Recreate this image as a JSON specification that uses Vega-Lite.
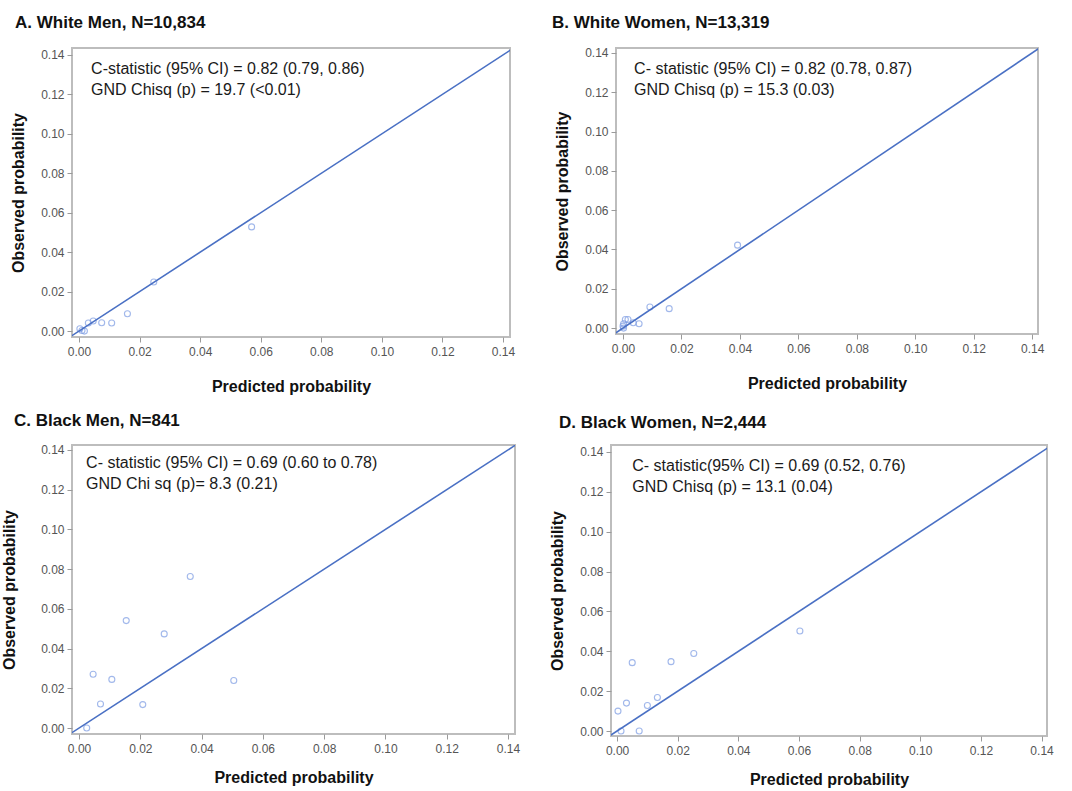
{
  "$schema": "https://vega.github.io/schema/vega-lite/v6.json",
  "background": "white",
  "padding": {"left": 0, "top": 12, "right": 5, "bottom": 3},
  "config": {
    "view": {"stroke": "#bdbdbd", "strokeWidth": 2},
    "axis": {
      "domain": false, "grid": false, "tickColor": "#9a9a9a", "tickSize": 5, "tickWidth": 1,
      "labelFont": "Liberation Sans", "labelFontSize": 12, "labelColor": "#555555", "labelPadding": 3,
      "titleFont": "Liberation Sans", "titleFontSize": 16, "titleFontWeight": "bold", "titleColor": "#111111",
      "format": ".2f"
    },
    "axisX": {"labelPadding": 4, "titlePadding": 21, "labelFlush": false},
    "axisY": {"titlePadding": 14, "labelFlush": false},
    "title": {"anchor": "start", "frame": "group", "font": "Liberation Sans", "fontSize": 17, "fontWeight": "bold", "color": "#111111"},
    "point": {"shape": "circle", "filled": false, "size": 36, "strokeWidth": 1.1, "color": "#7b9be3"},
    "rule": {"color": "#4a70c4", "strokeWidth": 1.6},
    "text": {"font": "Liberation Sans", "fontSize": 16, "color": "#1a1a1a", "align": "left", "baseline": "top", "lineHeight": 21, "lineBreak": "\n"}
  },
  "datasets": {
    "white_men": [
      {"predicted": 0.0003, "observed": 0.0012},
      {"predicted": 0.0010, "observed": 0.0003},
      {"predicted": 0.0018, "observed": 0.0000},
      {"predicted": 0.0031, "observed": 0.0041},
      {"predicted": 0.0047, "observed": 0.0051},
      {"predicted": 0.0075, "observed": 0.0042},
      {"predicted": 0.0108, "observed": 0.0041},
      {"predicted": 0.0160, "observed": 0.0088},
      {"predicted": 0.0247, "observed": 0.0249},
      {"predicted": 0.0570, "observed": 0.0528}
    ],
    "white_women": [
      {"predicted": 0.0002, "observed": 0.0000},
      {"predicted": 0.0000, "observed": 0.0010},
      {"predicted": 0.0002, "observed": 0.0022},
      {"predicted": 0.0008, "observed": 0.0044},
      {"predicted": 0.0017, "observed": 0.0044},
      {"predicted": 0.0035, "observed": 0.0027},
      {"predicted": 0.0055, "observed": 0.0022},
      {"predicted": 0.0092, "observed": 0.0107},
      {"predicted": 0.0158, "observed": 0.0099},
      {"predicted": 0.0392, "observed": 0.0422}
    ],
    "black_men": [
      {"predicted": 0.0025, "observed": 0.0000},
      {"predicted": 0.0046, "observed": 0.0271},
      {"predicted": 0.0070, "observed": 0.0121},
      {"predicted": 0.0107, "observed": 0.0245},
      {"predicted": 0.0154, "observed": 0.0541},
      {"predicted": 0.0208, "observed": 0.0118},
      {"predicted": 0.0278, "observed": 0.0474},
      {"predicted": 0.0363, "observed": 0.0763},
      {"predicted": 0.0505, "observed": 0.0239}
    ],
    "black_women": [
      {"predicted": 0.0003, "observed": 0.0100},
      {"predicted": 0.0013, "observed": 0.0000},
      {"predicted": 0.0031, "observed": 0.0140},
      {"predicted": 0.0050, "observed": 0.0343},
      {"predicted": 0.0073, "observed": 0.0000},
      {"predicted": 0.0100, "observed": 0.0128},
      {"predicted": 0.0133, "observed": 0.0168},
      {"predicted": 0.0178, "observed": 0.0348},
      {"predicted": 0.0253, "observed": 0.0389},
      {"predicted": 0.0603, "observed": 0.0502}
    ]
  },
  "spacing": 15,
  "vconcat": [
    {
      "spacing": 35,
      "hconcat": [
        {
          "title": {"text": "A. White Men, N=10,834", "dx": -57, "offset": 16},
          "width": 438, "height": 289,
          "layer": [
            {
              "data": {"name": "white_men"},
              "mark": "point",
              "encoding": {
                "x": {"field": "predicted", "type": "quantitative", "scale": {"domain": [-0.0023, 0.1423], "nice": false, "zero": false}, "axis": {"title": "Predicted probability", "values": [0, 0.02, 0.04, 0.06, 0.08, 0.1, 0.12, 0.14]}},
                "y": {"field": "observed", "type": "quantitative", "scale": {"domain": [-0.003, 0.1435], "nice": false, "zero": false}, "axis": {"title": "Observed probability", "values": [0, 0.02, 0.04, 0.06, 0.08, 0.1, 0.12, 0.14]}}
              }
            },
            {
              "data": {"values": [{"line": "y=x"}]},
              "mark": {"type": "rule", "clip": true},
              "encoding": {
                "x": {"datum": -0.01, "type": "quantitative"}, "y": {"datum": -0.01, "type": "quantitative"},
                "x2": {"datum": 0.16}, "y2": {"datum": 0.16}
              }
            },
            {
              "data": {"values": [{"note": "C-statistic (95% CI) = 0.82 (0.79, 0.86)\nGND  Chisq (p) = 19.7 (<0.01)"}]},
              "mark": "text",
              "encoding": {
                "x": {"datum": 0.004, "type": "quantitative"}, "y": {"datum": 0.137, "type": "quantitative"},
                "text": {"field": "note", "type": "nominal"}
              }
            }
          ]
        },
        {
          "title": {"text": "B. White Women, N=13,319", "dx": -64, "offset": 15},
          "width": 422, "height": 286,
          "layer": [
            {
              "data": {"name": "white_women"},
              "mark": "point",
              "encoding": {
                "x": {"field": "predicted", "type": "quantitative", "scale": {"domain": [-0.0024, 0.142], "nice": false, "zero": false}, "axis": {"title": "Predicted probability", "values": [0, 0.02, 0.04, 0.06, 0.08, 0.1, 0.12, 0.14]}},
                "y": {"field": "observed", "type": "quantitative", "scale": {"domain": [-0.003, 0.1425], "nice": false, "zero": false}, "axis": {"title": "Observed probability", "values": [0, 0.02, 0.04, 0.06, 0.08, 0.1, 0.12, 0.14]}}
              }
            },
            {
              "data": {"values": [{"line": "y=x"}]},
              "mark": {"type": "rule", "clip": true},
              "encoding": {
                "x": {"datum": -0.01, "type": "quantitative"}, "y": {"datum": -0.01, "type": "quantitative"},
                "x2": {"datum": 0.16}, "y2": {"datum": 0.16}
              }
            },
            {
              "data": {"values": [{"note": "C- statistic (95% CI) = 0.82 (0.78, 0.87)\nGND  Chisq (p) = 15.3 (0.03)"}]},
              "mark": "text",
              "encoding": {
                "x": {"datum": 0.0038, "type": "quantitative"}, "y": {"datum": 0.136, "type": "quantitative"},
                "text": {"field": "note", "type": "nominal"}
              }
            }
          ]
        }
      ]
    },
    {
      "spacing": 27,
      "hconcat": [
        {
          "title": {"text": "C. Black Men, N=841", "dx": -58, "offset": 14},
          "width": 443, "height": 289,
          "layer": [
            {
              "data": {"name": "black_men"},
              "mark": "point",
              "encoding": {
                "x": {"field": "predicted", "type": "quantitative", "scale": {"domain": [-0.0023, 0.1423], "nice": false, "zero": false}, "axis": {"title": "Predicted probability", "titlePadding": 15, "values": [0, 0.02, 0.04, 0.06, 0.08, 0.1, 0.12, 0.14]}},
                "y": {"field": "observed", "type": "quantitative", "scale": {"domain": [-0.003, 0.1425], "nice": false, "zero": false}, "axis": {"title": "Observed probability", "titlePadding": 23, "values": [0, 0.02, 0.04, 0.06, 0.08, 0.1, 0.12, 0.14]}}
              }
            },
            {
              "data": {"values": [{"line": "y=x"}]},
              "mark": {"type": "rule", "clip": true},
              "encoding": {
                "x": {"datum": -0.01, "type": "quantitative"}, "y": {"datum": -0.01, "type": "quantitative"},
                "x2": {"datum": 0.16}, "y2": {"datum": 0.16}
              }
            },
            {
              "data": {"values": [{"note": "C- statistic (95% CI) = 0.69 (0.60 to 0.78)\nGND  Chi sq (p)= 8.3 (0.21)"}]},
              "mark": "text",
              "encoding": {
                "x": {"datum": 0.0023, "type": "quantitative"}, "y": {"datum": 0.1377, "type": "quantitative"},
                "text": {"field": "note", "type": "nominal"}
              }
            }
          ]
        },
        {
          "title": {"text": "D. Black Women, N=2,444", "dx": -52, "offset": 13},
          "width": 436, "height": 291,
          "layer": [
            {
              "data": {"name": "black_women"},
              "mark": "point",
              "encoding": {
                "x": {"field": "predicted", "type": "quantitative", "scale": {"domain": [-0.002, 0.1418], "nice": false, "zero": false}, "axis": {"title": "Predicted probability", "titlePadding": 15, "values": [0, 0.02, 0.04, 0.06, 0.08, 0.1, 0.12, 0.14]}},
                "y": {"field": "observed", "type": "quantitative", "scale": {"domain": [-0.0025, 0.1435], "nice": false, "zero": false}, "axis": {"title": "Observed probability", "values": [0, 0.02, 0.04, 0.06, 0.08, 0.1, 0.12, 0.14]}}
              }
            },
            {
              "data": {"values": [{"line": "y=x"}]},
              "mark": {"type": "rule", "clip": true},
              "encoding": {
                "x": {"datum": -0.01, "type": "quantitative"}, "y": {"datum": -0.01, "type": "quantitative"},
                "x2": {"datum": 0.16}, "y2": {"datum": 0.16}
              }
            },
            {
              "data": {"values": [{"note": "C- statistic(95% CI) = 0.69 (0.52, 0.76)\nGND  Chisq (p) = 13.1 (0.04)"}]},
              "mark": "text",
              "encoding": {
                "x": {"datum": 0.005, "type": "quantitative"}, "y": {"datum": 0.137, "type": "quantitative"},
                "text": {"field": "note", "type": "nominal"}
              }
            }
          ]
        }
      ]
    }
  ]
}
